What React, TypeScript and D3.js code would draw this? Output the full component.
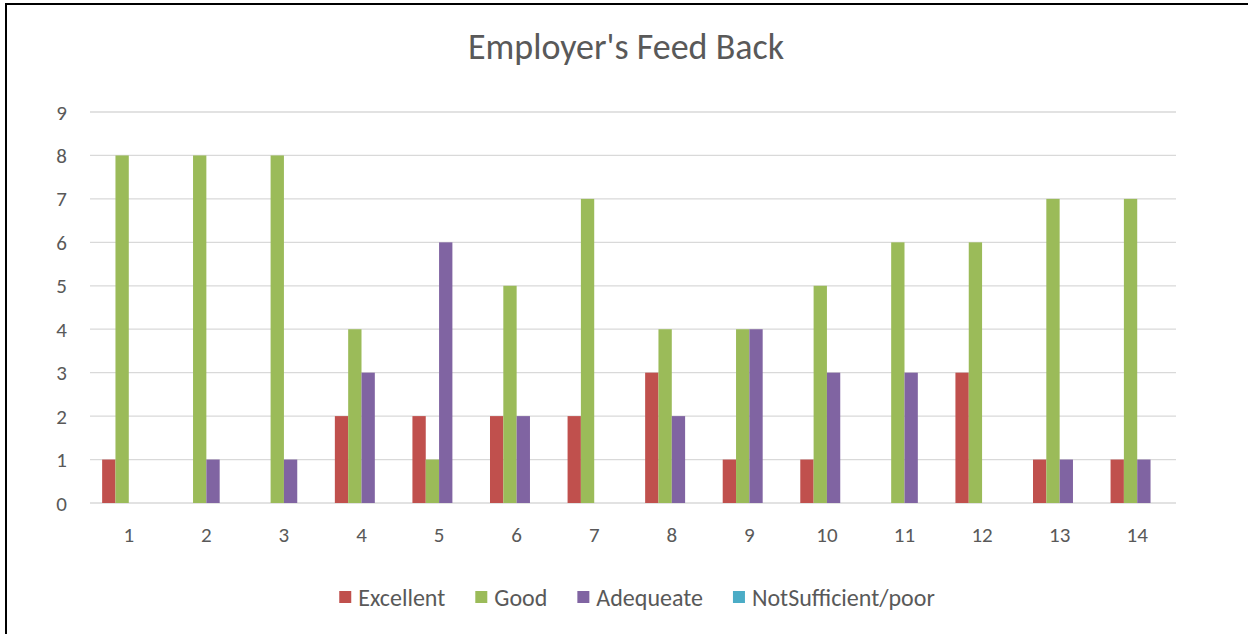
import * as d3 from "d3";
import { useEffect, useRef } from "react";

const categories = ["1", "2", "3", "4", "5", "6", "7", "8", "9", "10", "11", "12", "13", "14"];
const seriesNames = ["Excellent", "Good", "Adequeate", "NotSufficient/poor"];
const excellent = [1, 0, 0, 2, 2, 2, 2, 3, 1, 1, 0, 3, 1, 1];
const good = [8, 8, 8, 4, 1, 5, 7, 4, 4, 5, 6, 6, 7, 7];
const adequate = [0, 1, 1, 3, 6, 2, 0, 2, 4, 3, 3, 0, 1, 1];
const notSufficient = [0, 0, 0, 0, 0, 0, 0, 0, 0, 0, 0, 0, 0, 0];
const yTicks = [0, 1, 2, 3, 4, 5, 6, 7, 8, 9];
const colors = ["#C0504D", "#9BBB59", "#8064A2", "#4BACC6"];

const FONT = "Calibri, Carlito, Lato, sans-serif";
const W = 1248;
const H = 634;

export default function App() {
  const svgRef = useRef<SVGSVGElement | null>(null);

  useEffect(() => {
    const values = [excellent, good, adequate, notSufficient];
    const margin = { top: 112, right: 72, bottom: 131, left: 90 };

    const svg = d3.select(svgRef.current);
    svg.selectAll("*").remove();

    svg.append("rect").attr("width", W).attr("height", H).attr("fill", "#fff");
    // chart border (only left/top visible in the crop)
    svg.append("rect")
      .attr("x", 6).attr("y", 4)
      .attr("width", W + 10).attr("height", H + 10)
      .attr("fill", "none").attr("stroke", "#000").attr("stroke-width", 2);

    const x = d3.scaleBand<string>()
      .domain(categories)
      .range([margin.left, W - margin.right])
      .paddingInner(0.313)
      .paddingOuter(0.1565);
    const xs = d3.scaleBand<string>().domain(seriesNames).range([0, x.bandwidth()]);
    const y = d3.scaleLinear().domain([0, 9]).range([H - margin.bottom, margin.top]);

    svg.append("g").selectAll("line")
      .data(yTicks)
      .join("line")
      .attr("x1", margin.left).attr("x2", W - margin.right)
      .attr("y1", d => y(d)).attr("y2", d => y(d))
      .attr("stroke", "#D9D9D9").attr("stroke-width", 1.3);

    svg.append("g").selectAll("text")
      .data(yTicks)
      .join("text")
      .attr("x", 67).attr("y", d => y(d))
      .attr("dy", "0.36em")
      .attr("text-anchor", "end")
      .attr("font-family", FONT).attr("font-size", 21).attr("fill", "#595959")
      .text(d => d);

    svg.append("g").selectAll("text")
      .data(categories)
      .join("text")
      .attr("x", d => x(d)! + x.bandwidth() / 2).attr("y", 542)
      .attr("text-anchor", "middle")
      .attr("font-family", FONT).attr("font-size", 21).attr("fill", "#595959")
      .text(d => d);

    seriesNames.forEach((s, si) => {
      svg.append("g").selectAll("rect")
        .data(values[si])
        .join("rect")
        .attr("x", (_, i) => x(categories[i])! + xs(s)!)
        .attr("y", d => y(d))
        .attr("width", xs.bandwidth())
        .attr("height", d => y(0) - y(d))
        .attr("fill", colors[si]);
    });

    svg.append("text")
      .attr("x", 626).attr("y", 59)
      .attr("text-anchor", "middle")
      .attr("font-family", FONT).attr("font-size", 36).attr("fill", "#595959")
      .text("Employer's Feed Back");

    // legend, measured then centred
    const legend = svg.append("g");
    let cx = 0;
    const gap = 30;
    seriesNames.forEach((s, i) => {
      const g = legend.append("g").attr("transform", `translate(${cx},0)`);
      g.append("rect").attr("x", 0).attr("y", -6).attr("width", 12).attr("height", 12).attr("fill", colors[i]);
      const t = g.append("text")
        .attr("x", 19).attr("dy", "0.36em")
        .attr("font-family", FONT).attr("font-size", 24).attr("fill", "#595959")
        .text(s);
      const len = (t.node() as SVGTextElement).getComputedTextLength();
      cx += 19 + len + gap;
    });
    const total = cx - gap;
    legend.attr("transform", `translate(${637 - total / 2},597)`);
  }, []);

  return (
    <div style={{ position: "absolute", left: 0, top: 0 }}>
      <svg ref={svgRef} width={W} height={H} style={{ display: "block" }} />
    </div>
  );
}
